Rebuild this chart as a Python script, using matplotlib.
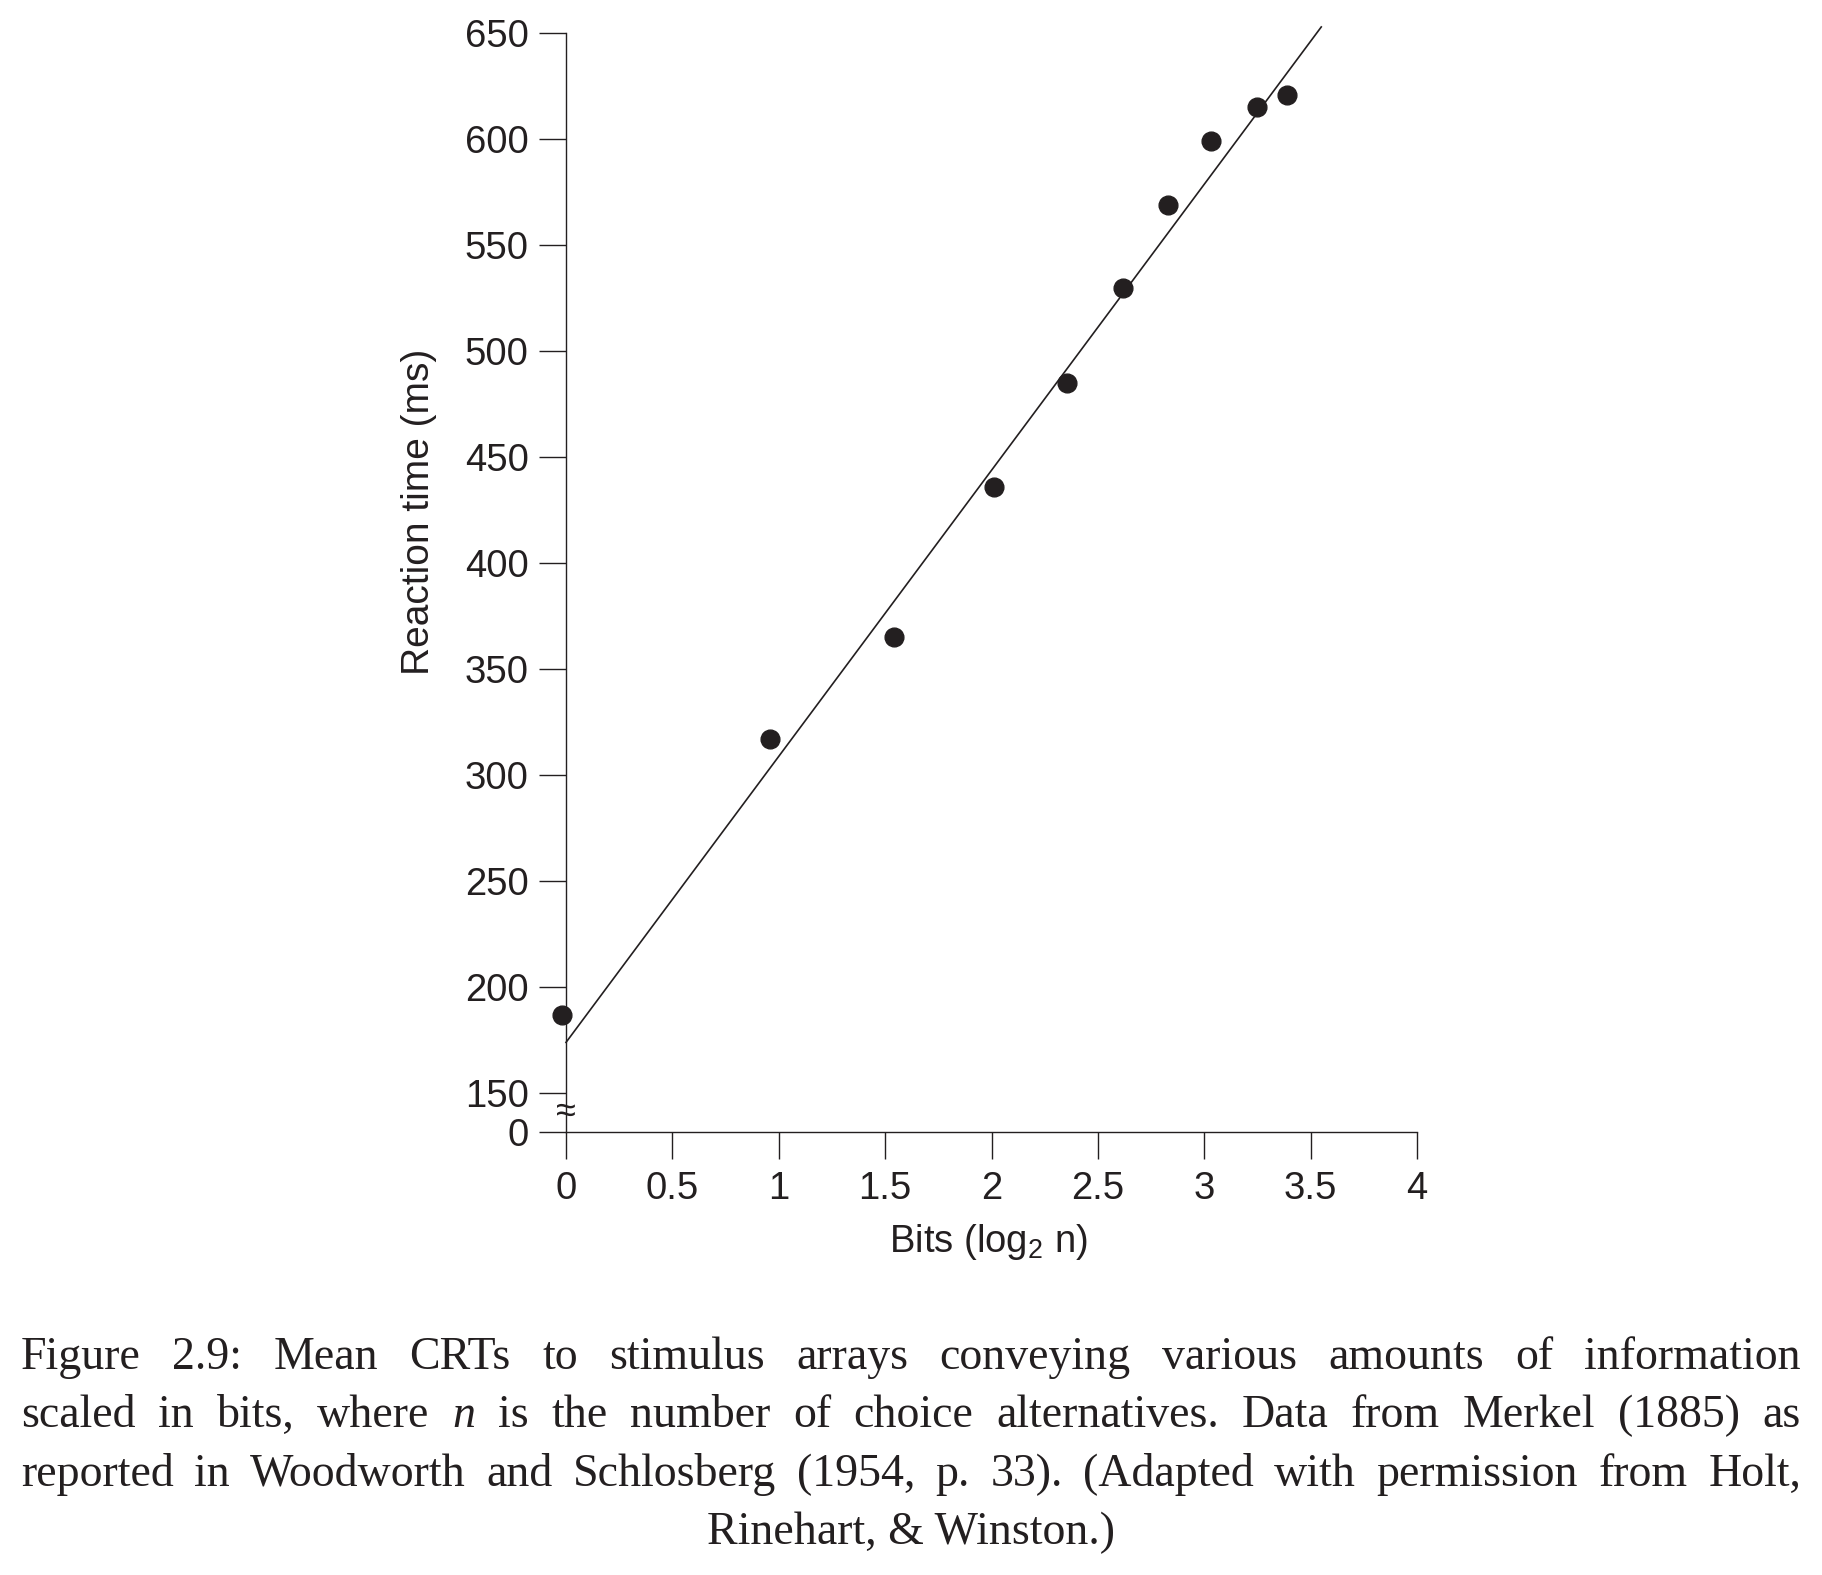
import matplotlib
matplotlib.use('Agg')
import matplotlib.pyplot as plt
from matplotlib.transforms import IdentityTransform

plt.rcParams['font.family'] = ['Liberation Sans', 'DejaVu Sans']
plt.rcParams['mathtext.fontset'] = 'custom'
plt.rcParams['mathtext.rm'] = 'Liberation Sans'
plt.rcParams['mathtext.it'] = 'Liberation Sans:italic'

INK = '#231f20'

# data (Merkel 1885)
bits = [-0.02, 0.96, 1.54, 2.01, 2.355, 2.62, 2.83, 3.03, 3.25, 3.39]
rt_ms = [187, 317, 365, 436, 485, 530, 569, 599, 615, 621]
# fitted line end points
fit_bits = [0, 3.55]
fit_rt = [174, 653]

y_ticks = [150, 200, 250, 300, 350, 400, 450, 500, 550, 600, 650]
y_zero_pos = 131.6   # where the "0" tick sits under the axis break
x_ticks = [0, 0.5, 1, 1.5, 2, 2.5, 3, 3.5, 4]
x_ticklabels = ['0', '0.5', '1', '1.5', '2', '2.5', '3', '3.5', '4']

caption_lines = [
    "Figure 2.9: Mean CRTs to stimulus arrays conveying various amounts of information",
    "scaled in bits, where n is the number of choice alternatives. Data from Merkel (1885) as",
    "reported in Woodworth and Schlosberg (1954, p. 33). (Adapted with permission from Holt,",
    "Rinehart, & Winston.)",
]
italic_words = {'n'}

W, H = 1822, 1575
fig = plt.figure(figsize=(W / 100, H / 100), dpi=100)
fig.patch.set_facecolor('white')

ax = fig.add_axes([566 / W, (H - 1132.3) / H, 851 / W, 1099 / H])

ax.plot(fit_bits, fit_rt, color=INK, lw=1.2, clip_on=False)
ax.plot(bits, rt_ms, 'o', ms=13.5, color=INK, mec=INK, clip_on=False, zorder=3)

ax.set_xlim(0, 4)
ax.set_ylim(y_zero_pos, 650)
for s in ['top', 'right']:
    ax.spines[s].set_visible(False)
for s in ['left', 'bottom']:
    ax.spines[s].set_color(INK)
    ax.spines[s].set_linewidth(1.0)
ax.spines['left'].set_bounds(y_zero_pos, 650)

ax.set_yticks([y_zero_pos] + y_ticks)
ax.set_yticklabels(['0'] + [str(v) for v in y_ticks])
ax.set_xticks(x_ticks)
ax.set_xticklabels(x_ticklabels)
ax.tick_params(direction='out', length=19.5, width=1.0, color=INK,
               labelsize=27.5, labelcolor=INK)
ax.tick_params(axis='x', pad=8.5)
ax.tick_params(axis='y', pad=7.5)

# axis break mark
ax.text(0, 141.2, '\u2248', ha='center', va='center', fontsize=26, color=INK,
        clip_on=False)

ax.set_ylabel('Reaction time (ms)', fontsize=28, color=INK)
ax.yaxis.set_label_coords(-0.161, 0.5649)
ax.yaxis.label.set_va('baseline')

ax.set_xlabel('Bits (log$_2$ n)', fontsize=27.5, color=INK)
ax.xaxis.set_label_coords(0.4965, -0.109)
ax.xaxis.label.set_va('baseline')

# justified caption below the chart
renderer = fig.canvas.get_renderer()
left, right = 21, 1801
base0, step = 1369, 58.3
cap_font = dict(family=['Liberation Serif', 'DejaVu Serif'], fontsize=33, color=INK)

for i, line in enumerate(caption_lines):
    y = H - (base0 + i * step)
    if i == len(caption_lines) - 1:
        fig.text((left + right) / 2, y, line, transform=IdentityTransform(),
                 ha='center', va='baseline', **cap_font)
        continue
    words = line.split(' ')
    texts = []
    for w in words:
        style = 'italic' if w in italic_words else 'normal'
        t = fig.text(0, y, w, transform=IdentityTransform(), ha='left',
                     va='baseline', style=style, **cap_font)
        texts.append(t)
    widths = [t.get_window_extent(renderer).width for t in texts]
    gap = (right - left - sum(widths)) / (len(texts) - 1)
    x = left
    for t, wd in zip(texts, widths):
        t.set_x(x)
        x += wd + gap

fig.savefig('out.png', dpi=100)
